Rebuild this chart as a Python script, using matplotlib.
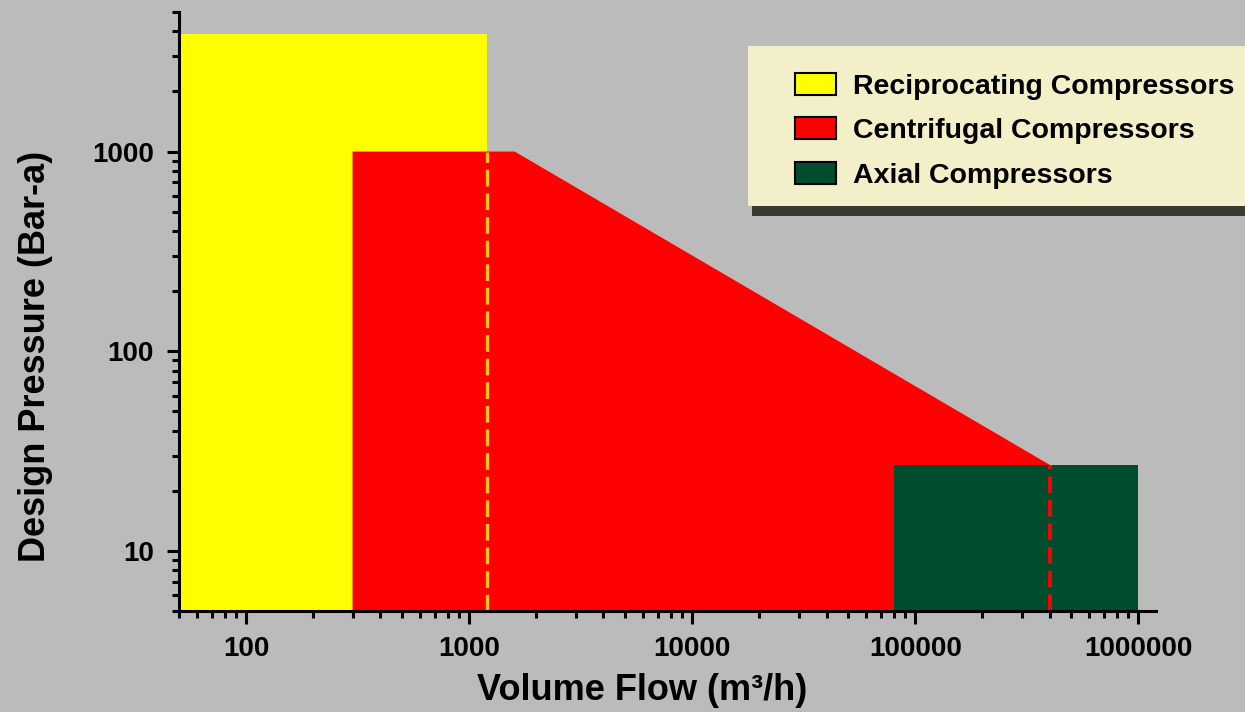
import matplotlib
matplotlib.use("Agg")
import matplotlib.pyplot as plt
from matplotlib.patches import Patch, Rectangle
from matplotlib import ticker

# compressor application ranges (flow m3/h, pressure bar-a)
recip_flow = [50, 1200, 1200, 50]
recip_pressure = [5, 5, 3900, 3900]
centrif_flow = [300, 300, 1600, 400000, 400000]
centrif_pressure = [5, 1000, 1000, 27, 5]
axial_flow = [80000, 1000000, 1000000, 80000]
axial_pressure = [5, 5, 27, 27]

# dashed boundary lines
recip_edge_flow = [1200, 1200]
recip_edge_pressure = [5, 1000]
centrif_edge_flow = [400000, 400000]
centrif_edge_pressure = [5, 27]

labels = ["Reciprocating Compressors", "Centrifugal Compressors", "Axial Compressors"]
colors = ["#ffff00", "#ff0000", "#004d2e"]

x_ticks = [100, 1000, 10000, 100000, 1000000]
y_ticks = [10, 100, 1000]

plt.rcParams["font.family"] = ["Liberation Sans", "DejaVu Sans"]
plt.rcParams["font.weight"] = "bold"
plt.rcParams["lines.scale_dashes"] = False

bg = "#bbbbbb"
fig = plt.figure(figsize=(12.45, 7.12), dpi=100, facecolor=bg)
W, H = 1245, 712
ax = fig.add_axes([179 / W, 1 - 611 / H, (1156 - 179) / W, (611 - 12) / H])
ax.set_facecolor("none")

ax.fill(recip_flow, recip_pressure, color=colors[0], lw=0, zorder=1)
ax.fill(centrif_flow, centrif_pressure, color=colors[1], lw=0, zorder=2)
ax.fill(axial_flow, axial_pressure, color=colors[2], lw=0, zorder=3)
ax.plot(recip_edge_flow, recip_edge_pressure, color="#f5c518", lw=2.4,
        dashes=(12, 5), zorder=4)
ax.plot(centrif_edge_flow, centrif_edge_pressure, color="#ff0000", lw=2.8,
        dashes=(12, 5), zorder=4)

ax.set_xscale("log")
ax.set_yscale("log")
ax.set_xlim(50, 1.2e6)
ax.set_ylim(5, 5000)

ax.xaxis.set_major_locator(ticker.FixedLocator(x_ticks))
ax.yaxis.set_major_locator(ticker.FixedLocator(y_ticks))
ax.xaxis.set_minor_locator(ticker.LogLocator(base=10, subs=range(2, 10), numticks=20))
ax.yaxis.set_minor_locator(ticker.LogLocator(base=10, subs=range(2, 10), numticks=20))
ax.xaxis.set_minor_formatter(ticker.NullFormatter())
ax.yaxis.set_minor_formatter(ticker.NullFormatter())
ax.xaxis.set_major_formatter(ticker.FuncFormatter(lambda v, p: f"{int(v)}"))
ax.yaxis.set_major_formatter(ticker.FuncFormatter(lambda v, p: f"{int(v)}"))

for s in ["top", "right"]:
    ax.spines[s].set_visible(False)
for s in ["left", "bottom"]:
    ax.spines[s].set_linewidth(2.2)
    ax.spines[s].set_zorder(5)
ax.tick_params(which="major", length=9, width=2.2, labelsize=20, pad=9)
ax.tick_params(which="minor", length=5, width=2.2)
for lab in ax.get_xticklabels() + ax.get_yticklabels():
    lab.set_fontweight("bold")

ax.set_xlabel("Volume Flow (m³/h)", fontsize=26, fontweight="bold")
ax.set_ylabel("Design Pressure (Bar-a)", fontsize=26, fontweight="bold")
# label centres in pixels: x label (642, 690), y label (36, 356)
ax.xaxis.set_label_coords((642 - 179) / (1156 - 179), -(690 - 611) / (611 - 12))
ax.yaxis.set_label_coords(-(179 - 36) / (1156 - 179), (611 - 356) / (611 - 12))
ax.xaxis.label.set_va("center")
ax.yaxis.label.set_va("center")

# legend box with drop shadow
fig.patches.append(Rectangle((752 / W, 1 - 216 / H), 560 / W, 160 / H,
                             transform=fig.transFigure, facecolor="#3a3a30",
                             edgecolor="none", zorder=-2))
fig.patches.append(Rectangle((748 / W, 1 - 206 / H), 560 / W, 160 / H,
                             transform=fig.transFigure, facecolor="#f3efc9",
                             edgecolor="none", zorder=-1))

handles = [Patch(facecolor=c, edgecolor="black", lw=1.5) for c in colors]
ax.legend(handles, labels, loc="upper left", bbox_to_anchor=(795 / W, 1 - 73 / H),
          bbox_transform=fig.transFigure, frameon=False, borderpad=0,
          borderaxespad=0, handlelength=1.45, handleheight=0.8,
          handletextpad=0.6, labelspacing=0.62,
          prop={"weight": "bold", "size": 20.5})

fig.savefig("out.png", dpi=100, facecolor=bg)
